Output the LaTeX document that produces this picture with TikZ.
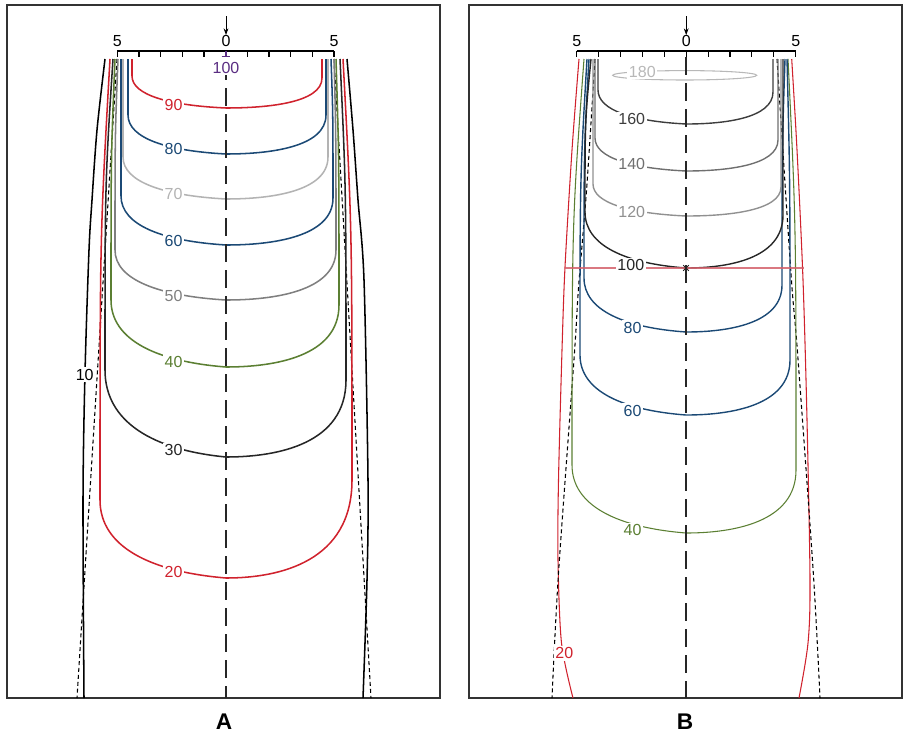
\documentclass[tikz,border=0pt]{standalone}
\usepackage{fontspec}
\setmainfont{Liberation Sans}
\usetikzlibrary{arrows.meta}
\definecolor{isored}{HTML}{D0222D}
\definecolor{isoblue}{HTML}{1B4975}
\definecolor{isolight}{HTML}{B3B3B3}
\definecolor{isogray}{HTML}{7F7F7F}
\definecolor{isogreen}{HTML}{5B7F32}
\definecolor{isodark}{HTML}{262626}
\definecolor{isopurple}{HTML}{5A2D82}
\definecolor{gray160}{HTML}{3D3D3D}
\definecolor{gray140}{HTML}{6F6F6F}
\definecolor{gray120}{HTML}{909090}
\definecolor{gray180}{HTML}{B8B8B8}
\definecolor{framegray}{HTML}{333333}
\definecolor{refred}{HTML}{D4606B}
\newcommand\isoline[9]{%
  \pgfmathsetmacro\cpA{#4+0.6*(#8-#4)}%
  \pgfmathsetmacro\cpB{#3+0.4*(#9-#3)}%
  \pgfmathsetmacro\cpC{#8-0.08*(#8-#4)}%
  \pgfmathsetmacro\cpD{#9+0.43*(#6-#9)}%
  \pgfmathsetmacro\cpE{#7+0.83*(#8-#7)}%
  \pgfmathsetmacro\cpF{59+0.4*(#4-59)}%
  \pgfmathsetmacro\cpG{59+0.4*(#7-59)}%
  \draw[#1] (#2,59) .. controls (#3,\cpF) .. (#3,#4) .. controls (#3,\cpA) and (\cpB,\cpC) .. (#9,#8) .. controls (\cpD,#8) and (#6,\cpE) .. (#6,#7) .. controls (#6,\cpG) .. (#5,59);%
}
\tikzset{
  frame/.style={line width=1.6pt, draw=framegray},
  isoA/.style={line width=1.15pt},
  isoB/.style={line width=1.05pt},
  isoBthin/.style={line width=0.8pt},
  penline/.style={dash pattern=on 3pt off 2.2pt, line width=0.8pt, draw=black},
  axisdash/.style={dash pattern=on 13.5pt off 6pt, line width=0.9pt, draw=isodark},
  lab/.style={fill=white, inner sep=1.2pt, font=\fontsize{12}{12}\selectfont},
  scalelab/.style={inner sep=0pt, font=\fontsize{12}{12}\selectfont},
  scaleline/.style={line width=0.8pt, draw=black},
  panellab/.style={inner sep=0pt, font=\bfseries\fontsize{17}{17}\selectfont},
}
\begin{document}
\begin{tikzpicture}[x=0.75pt,y=-0.75pt]
\useasboundingbox (0,0) rectangle (909,736);
% ---------------- Panel A ----------------
\draw[frame] (7,5) rectangle (440,698);
% outer 10 contour
\draw[isoA,black] plot[smooth] coordinates {(105,59) (97,130) (92,200) (89,250) (85,373) (83,500) (84,698)};
\draw[isoA,black] plot[smooth] coordinates {(347,59) (353,130) (358,200) (364,280) (368,480) (367,580) (363,698)};
% penumbra edges
\draw[penline] (117,59) -- (77,698);
\draw[penline] (334,59) -- (371,698);
% isodose contours
\isoline{isoA,isored}{110}{100}{500}{343}{352}{480}{578}{226}
\isoline{isoA,isodark}{113}{105}{370}{340}{346}{380}{457}{226}
\isoline{isoA,isogreen}{115}{111}{300}{336}{339}{305}{367}{226}
\isoline{isoA,isogray}{118}{115}{250}{334}{336}{250}{300}{226}
\isoline{isoA,isoblue}{121}{121}{196}{331}{333}{198}{245}{226}
\isoline{isoA,isolight}{123}{123}{157}{328}{328}{157}{199}{226}
\isoline{isoA,isoblue}{128}{128}{115}{326}{326}{115}{154}{226}
\isoline{isoA,isored}{132}{132}{76}{322}{322}{78}{108}{226}
% central axis
\draw[axisdash] (226,62) -- (226,698);
% labels
\node[lab,text=isopurple] (a100) at (226,68) {100};
\node[lab,text=isored] (a90) at (173.5,105) {90};
\node[lab,text=isoblue] (a80) at (173.5,149) {80};
\node[lab,text=isolight] (a70) at (173.5,194) {70};
\node[lab,text=isoblue] (a60) at (173.5,240.5) {60};
\node[lab,text=isogray] (a50) at (173.5,295.5) {50};
\node[lab,text=isogreen] (a40) at (173.5,361.5) {40};
\node[lab,text=isodark] (a30) at (173.5,450) {30};
\node[lab,text=isored] (a20) at (173.5,572) {20};
\node[lab,text=black] (a10) at (84.7,374.5) {10};
% scale
\draw[scaleline] (117.3,51) -- (334,51);
\foreach \i in {0,...,10}{
  \pgfmathsetmacro\tx{117.3+21.67*\i}
  \ifnum\i=5 \else \draw[scaleline] (\tx,51) -- (\tx,56.5); \fi
}
\draw[line width=0.8pt,isopurple] (226,51) -- (226,56.7) (221.7,56.7) -- (230.3,56.7);
\node[scalelab] (a5l) at (117.3,41) {5};
\node[scalelab] (a0) at (226,41) {0};
\node[scalelab] (a5r) at (334,41) {5};
\coordinate (aarr) at (226,16);
\draw[line width=0.75pt,-{Stealth[length=5pt,width=3.6pt]}] (aarr) -- (a0.north);
\node[panellab] (labA) at (224,721.5) {A};
% ---------------- Panel B ----------------
\draw[frame] (469,5) rectangle (902,698);
% outer 20 contour
\draw[isoBthin,isored] plot[smooth] coordinates {(579,59) (572,150) (565,267) (562,350) (558.5,480) (558,560) (561.5,643) (573,698)};
\draw[isoBthin,isored] plot[smooth] coordinates {(791.7,59) (797,150) (803,280) (807,420) (810,580) (808,643) (799,698)};
% penumbra edges
\draw[penline] plot[smooth] coordinates {(595,59) (586.7,188) (578.5,288) (574.3,355) (558.5,573) (552,698)};
\draw[penline] plot[smooth] coordinates {(777,59) (785.3,188) (792,288) (797.7,355) (813.3,573) (820,698)};
% contours
\isoline{isoBthin,isogreen}{584}{572}{465}{788}{796}{470}{533}{686}
\isoline{isoB,isoblue}{587}{580}{355}{787}{790}{360}{415}{686}
\isoline{isoB,isoblue}{589}{584}{278}{785}{782}{285}{332}{686}
\isoline{isoB,isodark}{591}{585}{212}{783}{783}{215}{268}{686}
\isoline{isoB,gray120}{593}{593}{184}{781}{781}{187}{216}{686}
\isoline{isoB,gray140}{595}{595}{138}{778}{778}{140}{171}{686}
\isoline{isoB,gray160}{598}{598}{90}{773}{773}{92}{124}{686}
\draw[line width=0.8pt,gray180] (684.7,75.3) ellipse [x radius=72, y radius=4.7];
% central axis
\draw[axisdash] (686,57) -- (686,698);
% reference depth line
\coordinate (refL) at (565,268);
\coordinate (refR) at (804,268);
\draw[line width=1.1pt,refred,opacity=0.85] (refL) -- (refR);
\draw[line width=0.7pt,isodark] (683.2,265.2) -- (688.8,270.8) (683.2,270.8) -- (688.8,265.2);
% labels
\node[lab,text=gray180] (b180) at (642.3,71.7) {180};
\node[lab,text=gray160] (b160) at (631.7,119.3) {160};
\node[lab,text=gray140] (b140) at (631.7,164.3) {140};
\node[lab,text=gray120] (b120) at (631.7,212.3) {120};
\node[lab,text=isodark] (b100) at (630.8,265) {100};
\node[lab,text=isoblue] (b80) at (632.5,327.7) {80};
\node[lab,text=isoblue] (b60) at (632.5,410.7) {60};
\node[lab,text=isogreen] (b40) at (632.5,530) {40};
\node[lab,text=isored] (b20) at (564.3,653.3) {20};
% scale
\draw[scaleline] (576.7,51) -- (795.7,51);
\foreach \i in {0,...,10}{
  \pgfmathsetmacro\tx{576.7+21.9*\i}
  \draw[scaleline] (\tx,51) -- (\tx,56.5);
}
\node[scalelab] (b5l) at (576.7,41) {5};
\node[scalelab] (b0) at (686.2,41) {0};
\node[scalelab] (b5r) at (795.7,41) {5};
\coordinate (barr) at (686.2,16);
\draw[line width=0.75pt,-{Stealth[length=5pt,width=3.6pt]}] (barr) -- (b0.north);
\node[panellab] (labB) at (685,721.5) {B};
\end{tikzpicture}
\end{document}
